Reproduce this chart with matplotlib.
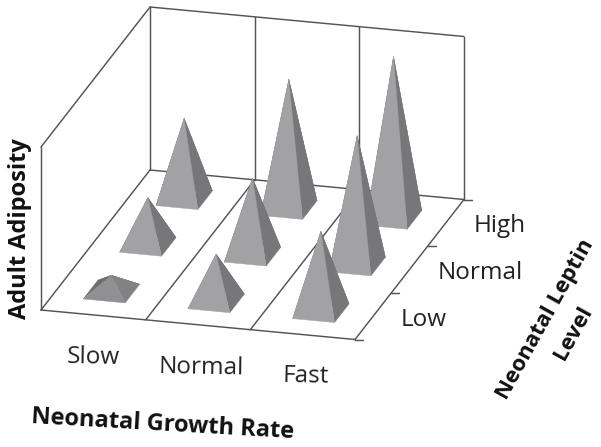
import matplotlib
matplotlib.use("Agg")

import numpy as np
import matplotlib.pyplot as plt
from matplotlib.patches import Polygon

plt.rcParams["font.family"] = ["Open Sans", "DejaVu Sans"]

growth_labels = ["Slow", "Normal", "Fast"]
leptin_labels = ["Low", "Normal", "High"]

# adult adiposity, wall height = 100; rows are growth rate, columns leptin level
adiposity_slow = [10, 29, 49]
adiposity_normal = [29, 47, 79]
adiposity_fast = [49, 79, 99]
adiposity = [adiposity_slow, adiposity_normal, adiposity_fast]

# oblique projection of the box, in pixels
ORIGIN = np.array([41.0, 310.0])
X_VEC = np.array([314.0, 29.5])
Y_VEC = np.array([109.0, -140.0])
Z_VEC = np.array([0.0, -163.0])
Z_MAX = 100.0
BASE = 0.40  # pyramid base width, in cells

LINE = "#545456"
FRONT = "#a2a2a4"
FRONT_FLAT = "#909092"
RIGHT = "#77777a"
RIGHT_FLAT = "#828284"
BACK = "#6e6e70"


def proj(x, y, z=0.0):
    # x and y in cells (0..3), z in data units
    return ORIGIN + X_VEC * x / 3 + Y_VEC * y / 3 + Z_VEC * z / Z_MAX


def line(ax, a, b):
    ax.plot([a[0], b[0]], [a[1], b[1]], color=LINE, lw=1.05, solid_capstyle="round")


fig = plt.figure(figsize=(6.01, 4.47), dpi=100)
ax = fig.add_axes([0, 0, 1, 1])
ax.set_xlim(0, 601)
ax.set_ylim(447, 0)
ax.axis("off")

# floor outline and left wall
line(ax, proj(0, 0), proj(3, 0))
line(ax, proj(0, 0), proj(0, 3))
line(ax, proj(3, 0), proj(3, 3))
line(ax, proj(0, 3), proj(3, 3))
line(ax, proj(0, 0), proj(0, 0, Z_MAX))
line(ax, proj(0, 0, Z_MAX), proj(0, 3, Z_MAX))
line(ax, proj(0, 3, Z_MAX), proj(3, 3, Z_MAX))

# back wall uprights and floor dividers
for i in range(4):
    line(ax, proj(i, 3), proj(i, 3, Z_MAX))
for i in (1, 2):
    line(ax, proj(i, 0), proj(i, 3))

# depth ticks
for j in range(4):
    p = proj(3, j)
    line(ax, p, p + np.array([8.0, 0.0]))

# pyramids, back row first
for j in (2, 1, 0):
    for i in range(3):
        x0, x1 = i + 0.5 - BASE / 2, i + 0.5 + BASE / 2
        y0, y1 = j + 0.5 - BASE / 2, j + 0.5 + BASE / 2
        apex = proj(i + 0.5, j + 0.5, adiposity[i][j])
        fl, fr = proj(x0, y0), proj(x1, y0)
        bl, br = proj(x0, y1), proj(x1, y1)
        flat = adiposity[i][j] < 15
        front = FRONT_FLAT if flat else FRONT
        right = RIGHT_FLAT if flat else RIGHT
        for a, b, col in [(bl, br, BACK), (fl, bl, BACK), (fr, br, right), (fl, fr, front)]:
            ax.add_patch(Polygon([a, b, apex], closed=True, facecolor=col, edgecolor=col, lw=0.3, zorder=3))

# category labels
for name, px, py in zip(growth_labels, [93, 201, 306], [357, 368, 376]):
    ax.text(px, py, name, fontsize=17.5, color="#222222", ha="center", va="center", rotation=-1)
for name, px, py in zip(leptin_labels, [424, 480, 500], [320, 273, 226]):
    ax.text(px, py, name, fontsize=17.5, color="#222222", ha="center", va="center")

# axis titles
ax.text(20, 229, "Adult Adiposity", fontsize=17, fontweight="bold", color="#111111",
        rotation=90, ha="center", va="center")
ax.text(163, 425, "Neonatal Growth Rate", fontsize=17, fontweight="bold", color="#111111",
        rotation=-3.3, ha="center", va="center", rotation_mode="anchor")
ax.text(545, 319, "Neonatal Leptin", fontsize=16, fontweight="bold", color="#111111",
        rotation=61, ha="center", va="center", rotation_mode="anchor")
ax.text(573, 333, "Level", fontsize=16, fontweight="bold", color="#111111",
        rotation=61, ha="center", va="center", rotation_mode="anchor")

fig.savefig("out.png", dpi=100)
plt.close(fig)
